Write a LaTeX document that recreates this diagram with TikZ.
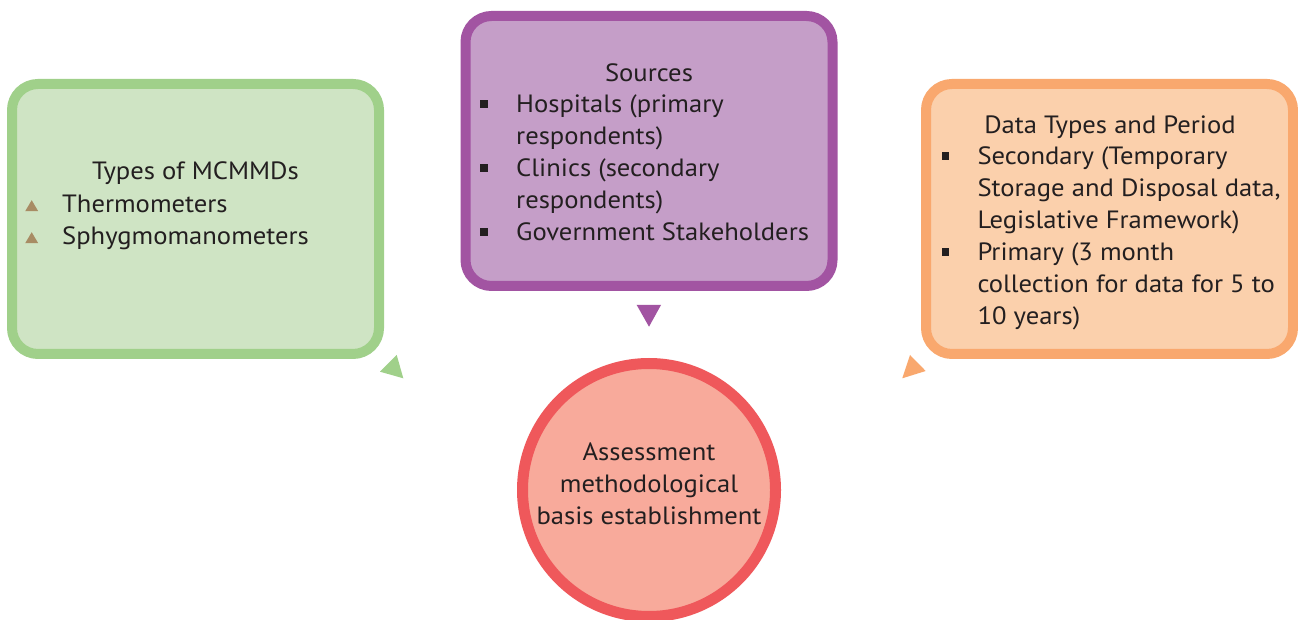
\documentclass[tikz,border=0pt]{standalone}
\usepackage{fontspec}
\setmainfont[FakeStretch=1.065]{PT Sans}
\usepackage{array}

\definecolor{grnline}{HTML}{A0D08A}
\definecolor{grnfill}{HTML}{CFE4C4}
\definecolor{purline}{HTML}{A254A2}
\definecolor{purfill}{HTML}{C59EC8}
\definecolor{orgline}{HTML}{F9A86E}
\definecolor{orgfill}{HTML}{FBD0AC}
\definecolor{redline}{HTML}{EF585B}
\definecolor{redfill}{HTML}{F8AA9B}
\definecolor{bulbrown}{HTML}{A88C64}
\definecolor{txtgray}{HTML}{231F20}

\newcommand{\sqbul}{\raisebox{5pt}{\rule{7.5pt}{7.5pt}}}
\newcommand{\tribul}{\tikz[baseline=-1.5pt]\fill[bulbrown] (0pt,0pt) -- (13pt,0pt) -- (6.5pt,11pt) -- cycle;}

\tikzset{
  box/.style={draw, line width=10pt, rounded corners=26pt,
              minimum width=367pt, minimum height=270pt},
  txt/.style={inner sep=0pt, text=txtgray, font=\fontsize{25}{32}\selectfont},
}

\begin{document}
\begin{tikzpicture}[x=1pt,y=1pt]
   \useasboundingbox[fill=white] (0,0) rectangle (1298,619);
   % the three boxes and the circle
   \node[box, draw=grnline, fill=grnfill] (types) at (195.5,400) {};
   \node[box, draw=purline, fill=purfill] (sources) at (649,468) {};
   \node[box, draw=orgline, fill=orgfill] (period) at (1109.5,400) {};
   \node[circle, draw=redline, fill=redfill, line width=11pt,
         minimum size=253pt] (basis) at (649,129) {};
   % pointers
   \fill[grnline] (396.7,264) -- (380,247.3) -- (403.3,240.7) -- cycle;
   \fill[purline] (636.7,314) -- (661,314) -- (649,292.3) -- cycle;
   \fill[orgline] (910,264) -- (925.7,248) -- (902.3,240.7) -- cycle;
   % texts
   \node[txt, anchor=base] (typestitle) at (195.5,439) {Types of MCMMDs};
   \node[txt, anchor=base west] (typeslist) at (25,406.3)
     {\begin{tabular}[t]{@{}p{37pt}@{}l@{}}
        \tribul & Thermometers\\
        \tribul & Sphygmomanometers
      \end{tabular}};
   \node[txt, anchor=base] (sourcestitle) at (649,537.3) {Sources};
   \node[txt, anchor=base west] (sourceslist) at (480,506.3)
     {\begin{tabular}[t]{@{}p{36pt}@{}l@{}}
        \sqbul & Hospitals (primary\\
               & respondents)\\
        \sqbul & Clinics (secondary\\
               & respondents)\\
        \sqbul & Government Stakeholders
      \end{tabular}};
   \node[txt, anchor=base] (periodtitle) at (1110,485.7) {Data Types and Period};
   \node[txt, anchor=base west] (periodlist) at (941.7,454)
     {\begin{tabular}[t]{@{}p{35.6pt}@{}l@{}}
        \sqbul & Secondary (Temporary\\
               & Storage and Disposal data,\\
               & Legislative Framework)\\
        \sqbul & Primary (3 month\\
               & collection for data for 5 to\\
               & 10 years)
      \end{tabular}};
   \node[txt, align=center] (basistext) at (649,135)
     {Assessment\\ methodological\\ basis establishment};
\end{tikzpicture}
\end{document}
